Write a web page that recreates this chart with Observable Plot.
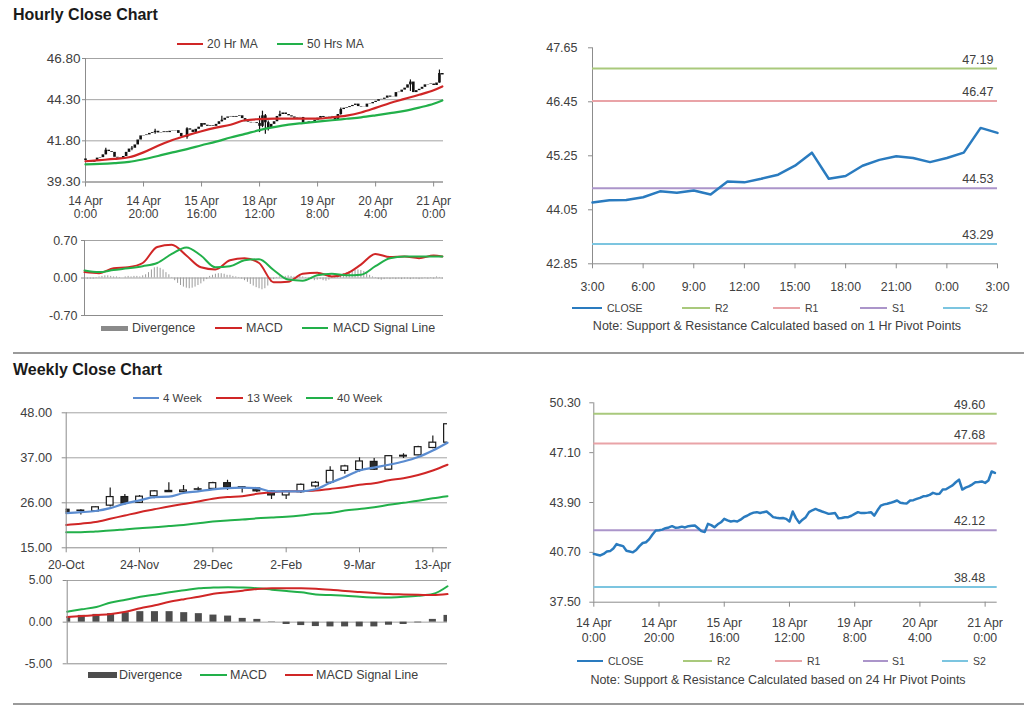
<!DOCTYPE html>
<html><head><meta charset="utf-8">
<script src="https://cdn.jsdelivr.net/npm/d3@7"></script>
<script src="https://cdn.jsdelivr.net/npm/@observablehq/plot@0.6"></script>
<style>
body{margin:0;background:#fff;font-family:"Liberation Sans",Arial,sans-serif;}
#root{position:relative;width:1024px;height:706px;overflow:hidden;background:#fff;}
.abs{position:absolute;}
.title{position:absolute;font-weight:bold;font-size:16px;line-height:18px;color:#1a1a1a;}
.sep{position:absolute;left:13px;width:1011px;height:2px;background:#9a9a9a;}
.lg{position:absolute;line-height:14px;color:#404040;white-space:nowrap;}
.note{position:absolute;font-size:12.5px;line-height:14px;color:#404040;white-space:nowrap;transform:translateX(-50%);}
</style></head>
<body><div id="root"></div>
<script>
// ---------------- DATA ----------------
// Hourly bars (one per hour, 124 bars)
const hourlyCloses = [
 40.60,40.55,40.50,40.60,40.75,40.78,40.95,41.23,41.15,41.10,
 40.80,40.75,40.70,40.85,41.10,41.30,41.35,41.55,41.85,42.10,
 42.12,42.16,42.25,42.30,42.38,42.28,42.30,42.35,42.30,42.38,
 42.40,42.42,42.25,42.06,42.00,42.53,42.45,42.31,42.50,42.63,
 42.85,42.75,42.68,42.72,42.68,42.80,42.96,43.05,43.17,43.25,
 43.28,43.23,43.28,43.32,43.15,42.96,42.92,42.89,42.90,42.85,
 42.68,43.32,42.90,42.59,42.80,42.96,43.28,43.40,43.49,43.40,
 43.32,43.25,43.17,43.20,43.22,42.89,42.90,42.95,42.96,43.05,
 43.17,43.28,43.22,43.23,43.25,43.28,43.06,43.40,43.70,43.78,
 43.82,43.88,43.95,44.03,43.88,43.85,43.84,44.03,44.05,44.13,
 44.20,44.30,44.32,44.39,44.52,44.45,44.46,44.73,44.75,44.88,
 45.00,45.20,45.37,44.73,44.85,44.93,45.05,45.20,45.22,45.25,
 45.16,45.31,45.89,45.80];
const hourlyFirstOpen = 40.70;
const hourlyWickBars = [7, 16, 24, 35, 47, 60, 61, 62, 63, 67, 88, 112, 122];
const hourlyWickLow  = [40.95, 41.20, 42.20, 41.90, 42.95, 42.30, 42.60, 42.20, 42.40, 43.25, 43.35, 44.80, 45.30];
const hourlyWickHigh = [41.35, 41.45, 42.50, 42.60, 43.30, 43.30, 43.60, 43.40, 43.00, 43.60, 43.80, 45.50, 46.10];
const hourlyTickBars = [0, 20, 40, 60, 80, 100, 120];
const hourlyTickLabels = ["14 Apr\n0:00","14 Apr\n20:00","15 Apr\n16:00","18 Apr\n12:00","19 Apr\n8:00","20 Apr\n4:00","21 Apr\n0:00"];
const hourlyYTicks = [39.30, 41.80, 44.30, 46.80];

const maBars = [0,5,10,15,20,25,30,35,40,45,50,55,60,65,70,75,80,85,90,95,100,105,110,115,120,123];
const ma20 = [40.56,40.63,40.70,40.80,41.10,41.50,41.85,42.13,42.38,42.60,42.78,43.05,43.12,43.15,43.15,43.15,43.15,43.22,43.33,43.52,43.80,44.10,44.35,44.60,44.87,45.10];
const ma50 = [40.37,40.40,40.45,40.52,40.68,40.88,41.10,41.30,41.53,41.75,42.00,42.22,42.45,42.63,42.78,42.88,42.97,43.05,43.14,43.23,43.35,43.48,43.62,43.82,44.05,44.25];

const hMacdYTicks = [-0.70, 0.00, 0.70];
const hMacd   = [0.11,0.09,0.18,0.20,0.28,0.58,0.62,0.42,0.20,0.16,0.33,0.37,0.28,-0.08,-0.07,0.08,0.10,0.03,0.08,0.25,0.45,0.39,0.40,0.37,0.42,0.40];
const hSignal = [0.14,0.11,0.15,0.18,0.22,0.28,0.45,0.57,0.42,0.20,0.22,0.33,0.35,0.15,-0.03,-0.05,0.05,0.08,0.05,0.06,0.22,0.37,0.40,0.40,0.40,0.40];
const hDivergence = [
 0.00,-0.02,-0.02,-0.02,-0.01,0.02,0.03,0.04,0.04,0.03,
 0.02,0.02,0.01,0.00,0.02,0.03,0.02,0.03,0.03,0.02,
 0.04,0.06,0.10,0.15,0.19,0.20,0.18,0.15,0.10,0.06,
 0.01,-0.05,-0.10,-0.14,-0.17,-0.19,-0.20,-0.19,-0.17,-0.14,
 -0.11,-0.07,-0.03,0.03,0.05,0.07,0.08,0.08,0.07,0.05,
 0.05,0.03,0.02,0.01,-0.02,-0.05,-0.08,-0.12,-0.15,-0.18,
 -0.20,-0.22,-0.20,-0.15,-0.08,-0.03,0.01,0.02,0.03,0.03,
 0.04,0.03,0.02,0.03,0.04,0.02,-0.01,-0.02,-0.03,-0.05,
 -0.04,-0.03,-0.05,-0.06,-0.04,0.01,0.03,0.05,0.06,0.08,
 0.10,0.12,0.13,0.14,0.15,0.14,0.12,0.09,0.05,0.02,
 -0.01,-0.03,-0.04,-0.03,-0.02,-0.03,-0.02,-0.03,-0.02,-0.03,
 -0.02,-0.02,-0.03,-0.02,-0.02,-0.03,-0.02,-0.01,-0.02,-0.01,
 -0.02,0.02,0.01,-0.02];

// 1 Hr pivot chart (last 24 hours)
const pivotHourTicks = [0,3,6,9,12,15,18,21,24];
const pivotHourLabels = ["3:00","6:00","9:00","12:00","15:00","18:00","21:00","0:00","3:00"];
const pivotHourClose = [44.21,44.26,44.27,44.33,44.46,44.43,44.48,44.39,44.68,44.66,44.74,44.83,45.03,45.32,44.74,44.80,45.03,45.16,45.24,45.20,45.11,45.20,45.32,45.87,45.76];
const pivotNames = ["R2","R1","S1","S2"];
const pivotColors = ["#a9c97c","#e9a3a7","#ab95ca","#7cc5e0"];
const hourPivotValues = [47.19, 46.47, 44.53, 43.29];
const hourPivotYTicks = [42.85, 44.05, 45.25, 46.45, 47.65];

// Weekly candles (20-Oct .. 20-Apr, 27 weeks)
const weekTicks = [0,5,10,15,20,25];
const weekTickLabels = ["20-Oct","24-Nov","29-Dec","2-Feb","9-Mar","13-Apr"];
const weekOpen  = [24.3,24.1,23.9,25.3,27.4,26.0,27.6,28.9,28.6,29.2,29.4,30.8,29.8,29.5,28.8,27.8,28.6,30.0,30.9,33.8,34.0,36.0,34.1,37.3,37.6,39.4,40.7];
const weekHigh  = [24.5,24.3,25.0,29.6,28.0,27.8,29.0,30.9,30.2,29.8,31.0,31.5,30.0,29.6,29.0,29.0,30.6,31.2,34.8,35.2,37.0,36.8,37.5,38.0,39.8,42.3,45.2];
const weekLow   = [23.5,23.0,23.8,25.0,25.4,25.8,27.0,28.5,28.4,28.8,29.2,29.0,28.4,28.5,26.8,26.8,28.3,29.6,30.5,33.0,33.5,33.9,33.9,36.8,37.5,39.2,40.5];
const weekClose = [23.7,24.0,24.9,27.4,25.8,27.5,28.8,28.6,29.0,29.3,30.8,29.8,29.6,28.8,27.8,28.8,30.4,30.9,33.8,34.9,36.1,34.1,37.4,37.5,39.6,40.7,45.2];
const ma4wk  = [23.5,23.7,24.0,24.7,25.8,26.6,27.4,27.5,28.4,28.8,29.3,29.6,29.7,29.6,28.8,28.8,28.8,29.3,30.9,32.3,33.9,34.6,35.3,36.1,37.2,38.8,40.7];
const ma13wk = [20.6,20.9,21.3,22.1,22.9,23.7,24.4,25.1,25.7,26.3,27.0,27.4,27.6,28.2,28.6,28.8,28.85,29.0,29.4,29.8,30.4,30.8,31.5,32.0,32.8,33.9,35.3];
const ma40wk = [18.8,18.8,19.0,19.2,19.5,19.8,20.0,20.3,20.6,21.0,21.4,21.7,21.9,22.2,22.4,22.6,22.9,23.3,23.5,24.1,24.5,24.9,25.5,26.0,26.5,27.1,27.6];
const weekYTicks = [15, 26, 37, 48];
const wMacdYTicks = [-5, 0, 5];
const wMacd   = [1.26,1.54,1.83,2.36,2.68,3.05,3.29,3.58,3.82,4.07,4.15,4.19,4.15,4.07,3.90,3.74,3.58,3.33,3.25,3.17,3.05,2.97,2.97,3.05,3.17,3.37,4.31];
const wSignal = [0.61,0.73,0.85,0.98,1.26,1.67,2.03,2.44,2.76,3.05,3.41,3.58,3.78,3.98,4.07,4.07,4.07,4.02,3.90,3.74,3.62,3.50,3.37,3.33,3.29,3.25,3.37];
const wDivergence = [0.65,0.81,0.93,1.02,1.14,1.26,1.26,1.26,1.14,1.02,0.85,0.73,0.45,0.33,0.04,-0.28,-0.41,-0.53,-0.57,-0.57,-0.57,-0.57,-0.37,-0.28,-0.08,0.33,0.81];

// 24 Hr pivot chart
const dayPivotValues = [49.60, 47.68, 42.12, 38.48];
const dayPivotYTicks = [37.50, 40.70, 43.90, 47.10, 50.30];

// ---------------- STYLE ----------------
const RED = "#d02626", GREEN = "#22b04a", BLUE4 = "#5b8cd0", CLOSEBLUE = "#2a7bbf";
const GRID = "#a3a3a3", AXIS = "#8c8c8c", TXT = "#404040";
const root = document.getElementById("root");
const baseStyle = {background: "transparent", overflow: "visible", fontFamily: "'Liberation Sans', Arial, sans-serif", fontSize: "12px", color: TXT};

function place(el, left, top, width) {
  const d = document.createElement("div");
  d.className = "abs";
  d.style.left = left + "px"; d.style.top = top + "px"; d.style.width = width + "px";
  d.appendChild(el); root.appendChild(d);
}
function addDiv(cls, text, css) {
  const d = document.createElement("div");
  d.className = cls; d.textContent = text; Object.assign(d.style, css); root.appendChild(d);
}
function legend(labels, colors, swatches, texts, y, heights, size) {
  labels.forEach((lab, i) => {
    const h = heights[i];
    addDiv("abs", "", {left: swatches[i][0] + "px", top: (y - h / 2) + "px", width: (swatches[i][1] - swatches[i][0]) + "px", height: h + "px", background: colors[i]});
    addDiv("lg", lab, {left: texts[i] + "px", top: (y - 7) + "px", fontSize: size + "px"});
  });
}

// titles & separators
addDiv("title", "Hourly Close Chart", {left: "13px", top: "6px"});
addDiv("sep", "", {top: "352px"});
addDiv("title", "Weekly Close Chart", {left: "13px", top: "361px"});
addDiv("sep", "", {top: "703px"});

// ---------- Panel 1: hourly candles ----------
const hLabelMap = new Map(hourlyTickBars.map((b, i) => [b, hourlyTickLabels[i]]));
const hourlyBars = hourlyCloses.map((c, i) => ({i, o: i === 0 ? hourlyFirstOpen : hourlyCloses[i - 1], c}));
const hourlyWicks = hourlyWickBars.map((b, k) => ({i: b, lo: hourlyWickLow[k], hi: hourlyWickHigh[k]}));
place(Plot.plot({
  width: 460, height: 175, marginLeft: 85, marginRight: 17, marginTop: 8, marginBottom: 43.5,
  style: baseStyle,
  x: {domain: [0, 123.4]},
  y: {domain: [39.30, 46.80]},
  marks: [
    Plot.gridY({ticks: hourlyYTicks, stroke: GRID, strokeOpacity: 1}),
    Plot.axisY({ticks: hourlyYTicks, tickFormat: d => d.toFixed(2), tickSize: 3, tickPadding: 2, stroke: AXIS, fill: TXT, fontSize: 13.5, label: null}),
    Plot.axisX({ticks: hourlyTickBars, tickFormat: d => hLabelMap.get(d), tickSize: 5, tickPadding: 8.5, lineHeight: 1.11, stroke: AXIS, fill: TXT, fontSize: 12, label: null}),
    Plot.ruleX([0], {stroke: AXIS}),
    Plot.ruleY([39.30], {stroke: AXIS}),
    Plot.ruleX(hourlyWicks, {x: "i", y1: "lo", y2: "hi", stroke: "#111", strokeWidth: 1.2}),
    Plot.ruleX(hourlyBars, {x: "i", y1: "o", y2: "c", stroke: "#111", strokeWidth: 2.6}),
    Plot.line(ma20, {x: (d, i) => maBars[i], y: d => d, stroke: RED, strokeWidth: 2.2, curve: "monotone-x"}),
    Plot.line(ma50, {x: (d, i) => maBars[i], y: d => d, stroke: GREEN, strokeWidth: 2.2, curve: "monotone-x"})
  ]
}), 0, 50, 460);
legend(["20 Hr MA", "50 Hrs MA"], [RED, GREEN], [[177, 203], [277, 303]], [207, 307], 44, [2, 2], 12);

// ---------- Panel 2: hourly MACD ----------
place(Plot.plot({
  width: 460, height: 110, marginLeft: 84, marginRight: 17, marginTop: 10, marginBottom: 25,
  style: baseStyle,
  x: {domain: [0, 123.4], axis: null},
  y: {domain: [-0.70, 0.70]},
  marks: [
    Plot.gridY({ticks: [0, 0.70], stroke: GRID, strokeOpacity: 1}),
    Plot.axisY({ticks: hMacdYTicks, tickFormat: d => d.toFixed(2), tickSize: 3, tickPadding: 4, stroke: AXIS, fill: TXT, fontSize: 12.5, label: null}),
    Plot.ruleX([0], {stroke: AXIS}),
    Plot.ruleY([-0.70], {stroke: AXIS}),
    Plot.ruleX(hDivergence, {x: (d, i) => i, y1: 0, y2: d => d, stroke: "#9c9c9c", strokeWidth: 1}),
    Plot.line(hMacd, {x: (d, i) => maBars[i], y: d => d, stroke: RED, strokeWidth: 2, curve: "monotone-x"}),
    Plot.line(hSignal, {x: (d, i) => maBars[i], y: d => d, stroke: GREEN, strokeWidth: 2, curve: "monotone-x"})
  ]
}), 0, 230, 460);
legend(["Divergence", "MACD", "MACD Signal Line"], ["#8a8a8a", RED, GREEN], [[101, 128], [215, 242], [302, 328]], [132, 246, 333], 328, [5, 2, 2], 12.5);

// ---------- Panel 3: 1 Hr pivot ----------
const pvLabelMap = new Map(pivotHourTicks.map((t, i) => [t, pivotHourLabels[i]]));
function pivotPlot(opts) {
  return Plot.plot({
    width: 500, height: opts.height, marginLeft: opts.ml, marginRight: opts.mr, marginTop: opts.mt, marginBottom: opts.mb,
    style: baseStyle,
    x: {domain: opts.xDomain},
    y: {domain: [opts.yTicks[0], opts.yTicks[opts.yTicks.length - 1]]},
    marks: [
      Plot.axisY({ticks: opts.yTicks, tickFormat: d => d.toFixed(2), tickSize: 4, tickPadding: opts.yPad, stroke: AXIS, fill: TXT, fontSize: 12.5, label: null}),
      Plot.axisX({ticks: opts.xTicks, tickFormat: opts.xFormat, tickSize: 5, tickPadding: opts.xPad, lineHeight: opts.lh, stroke: AXIS, fill: TXT, fontSize: 12.3, label: null}),
      Plot.ruleX([opts.xDomain[0]], {stroke: AXIS}),
      Plot.ruleY([opts.yTicks[0]], {stroke: AXIS}),
      Plot.ruleY(opts.levels, {y: d => d, stroke: (d, i) => pivotColors[i], strokeWidth: 2}),
      Plot.text(opts.levels, {x: opts.xDomain[1], y: d => d, text: d => d.toFixed(2), textAnchor: "end", dx: opts.labelDx, dy: -9, fill: TXT, fontSize: 12.5}),
      Plot.line(opts.close, {x: (d, i) => i, y: d => d, stroke: CLOSEBLUE, strokeWidth: 2.5})
    ]
  });
}
place(pivotPlot({
  height: 260, ml: 82, mr: 13, mt: 10.3, mb: 33.7, xDomain: [0, 24], yTicks: hourPivotYTicks, yPad: 11,
  xTicks: pivotHourTicks, xFormat: d => pvLabelMap.get(d), xPad: 11.5, lh: 1.2, levels: hourPivotValues, labelDx: -4, close: pivotHourClose
}), 510, 37, 500);
legend(["CLOSE", "R2", "R1", "S1", "S2"], [CLOSEBLUE, ...pivotColors], [[572, 602], [682, 710], [773, 800], [860, 887], [943, 970]], [607, 715, 805, 892, 975], 308, [2, 1.5, 1.5, 1.5, 1.5], 10.5);
addDiv("note", "Note: Support & Resistance Calculated based on 1 Hr Pivot Points", {left: "777px", top: "319px"});

// ---------- Panel 4: weekly candles ----------
const wLabelMap = new Map(weekTicks.map((t, i) => [t, weekTickLabels[i]]));
const weeks = weekOpen.map((o, w) => ({w, o, h: weekHigh[w], l: weekLow[w], c: weekClose[w]}));
place(Plot.plot({
  width: 460, height: 175, marginLeft: 65.7, marginRight: 13, marginTop: 7.3, marginBottom: 32.7,
  style: baseStyle,
  x: {domain: [0, 26]},
  y: {domain: [15, 48]},
  marks: [
    Plot.gridY({ticks: [26, 37, 48], stroke: GRID, strokeOpacity: 1}),
    Plot.axisY({ticks: weekYTicks, tickFormat: d => d.toFixed(2), tickSize: 4, tickPadding: 10, stroke: AXIS, fill: TXT, fontSize: 12.8, label: null}),
    Plot.axisX({ticks: weekTicks, tickFormat: d => wLabelMap.get(d), tickSize: 5, tickPadding: 8, stroke: AXIS, fill: TXT, fontSize: 12.2, label: null}),
    Plot.ruleX(weeks, {x: "w", y1: "l", y2: "h", stroke: "#1a1a1a", strokeWidth: 1.2, clip: true}),
    Plot.rect(weeks, {x1: d => d.w - 0.23, x2: d => d.w + 0.23, y1: "o", y2: "c", fill: d => d.c >= d.o ? "#ffffff" : "#2a2a2a", stroke: "#1a1a1a", strokeWidth: 1.2, clip: true}),
    Plot.line(ma40wk, {x: (d, i) => i, y: d => d, stroke: GREEN, strokeWidth: 2, curve: "monotone-x"}),
    Plot.line(ma13wk, {x: (d, i) => i, y: d => d, stroke: RED, strokeWidth: 2, curve: "monotone-x"}),
    Plot.line(ma4wk, {x: (d, i) => i, y: d => d, stroke: BLUE4, strokeWidth: 2.2, curve: "monotone-x"}),
    Plot.ruleX([0], {stroke: AXIS}),
    Plot.ruleY([15], {stroke: AXIS})
  ]
}), 0, 405, 460);
legend(["4 Week", "13 Week", "40 Week"], [BLUE4, RED, GREEN], [[133, 159], [216, 243], [306, 333]], [163, 247, 337], 398, [2, 2, 2], 11.5);

// ---------- Panel 5: weekly MACD ----------
place(Plot.plot({
  width: 460, height: 95, marginLeft: 66.7, marginRight: 13, marginTop: 5, marginBottom: 6.7,
  style: baseStyle,
  x: {domain: [0, 26], axis: null},
  y: {domain: [-5, 5]},
  marks: [
    Plot.gridY({ticks: [0, 5], stroke: GRID, strokeOpacity: 1}),
    Plot.axisY({ticks: wMacdYTicks, tickFormat: d => d.toFixed(2), tickSize: 4, tickPadding: 11, stroke: AXIS, fill: TXT, fontSize: 12, label: null}),
    Plot.rect(wDivergence, {x1: (d, i) => i - 0.24, x2: (d, i) => i + 0.24, y1: 0, y2: d => d, fill: "#4d4d4d", clip: true}),
    Plot.line(wMacd, {x: (d, i) => i, y: d => d, stroke: GREEN, strokeWidth: 2, curve: "monotone-x"}),
    Plot.line(wSignal, {x: (d, i) => i, y: d => d, stroke: RED, strokeWidth: 2, curve: "monotone-x"}),
    Plot.ruleX([0], {stroke: AXIS}),
    Plot.ruleY([-5], {stroke: AXIS})
  ]
}), 0, 575, 460);
legend(["Divergence", "MACD", "MACD Signal Line"], ["#4d4d4d", GREEN, RED], [[88, 117], [200, 227], [285, 313]], [119, 230, 316], 675, [6, 2, 2], 12.5);

// ---------- Panel 6: 24 Hr pivot ----------
place(pivotPlot({
  height: 250, ml: 83.3, mr: 13.3, mt: 10.3, mb: 40.3, xDomain: [0, 123.7], yTicks: dayPivotYTicks, yPad: 9,
  xTicks: hourlyTickBars, xFormat: d => hLabelMap.get(d), xPad: 9.5, lh: 1.22, levels: dayPivotValues, labelDx: -12, close: hourlyCloses
}), 510, 392, 500);
legend(["CLOSE", "R2", "R1", "S1", "S2"], [CLOSEBLUE, ...pivotColors], [[577, 603], [683, 712], [775, 802], [863, 888], [942, 968]], [608, 717, 807, 892, 973], 661, [2, 1.5, 1.5, 1.5, 1.5], 10.5);
addDiv("note", "Note: Support & Resistance Calculated based on 24 Hr Pivot Points", {left: "778px", top: "673px"});
</script>
</body></html>
